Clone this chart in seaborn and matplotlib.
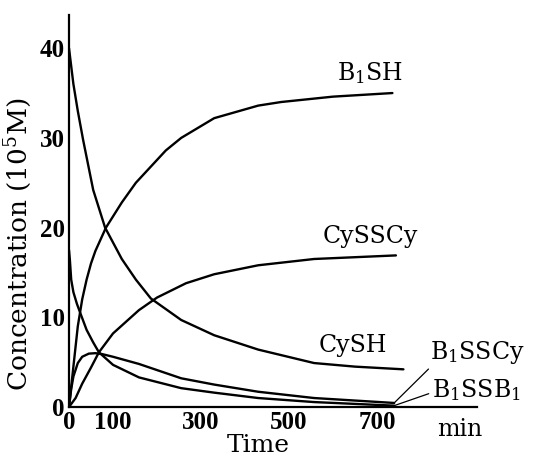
import numpy as np
import pandas as pd
import matplotlib
matplotlib.use("Agg")
import matplotlib.pyplot as plt
import seaborn as sns

# ---- data (time in min, concentration in 10^-5 M) ----
cysh_t = [0, 10, 20, 32, 55, 82, 120, 152, 186, 255, 330, 430, 557, 650, 760]
cysh_c = [40, 36, 33, 29.8, 24.2, 20, 16.5, 14.2, 12.1, 9.7, 8.0, 6.4, 4.9, 4.5, 4.2]

b1sh_t = [0, 10, 20, 30, 40, 50, 60, 84, 120, 152, 220, 255, 330, 430, 482, 600, 735]
b1sh_c = [0, 4.5, 9, 12, 14.2, 16, 17.4, 20, 22.8, 25, 28.6, 30, 32.2, 33.6, 34.0, 34.6, 35.0]

cysscy_t = [0, 15, 30, 50, 68, 100, 159, 200, 266, 330, 430, 557, 743]
cysscy_c = [0, 1.0, 2.6, 4.4, 6.1, 8.2, 10.8, 12.2, 13.8, 14.8, 15.8, 16.5, 16.9]

b1sscy_t = [0, 5, 10, 20, 30, 45, 60, 75, 100, 159, 255, 330, 430, 557, 739]
b1sscy_c = [0, 2.0, 3.4, 4.9, 5.6, 5.95, 6.0, 5.9, 5.6, 4.8, 3.2, 2.5, 1.7, 1.0, 0.45]

b1ssb1_t = [0, 2, 5, 10, 18, 27, 40, 55, 68, 100, 159, 255, 330, 430, 557, 739]
b1ssb1_c = [17.5, 16.4, 14.2, 12.8, 11.5, 10.3, 8.6, 7.2, 6.1, 4.7, 3.3, 2.1, 1.6, 1.0, 0.55, 0.15]

x_ticks = [0, 100, 300, 500, 700]
y_ticks = [0, 10, 20, 30, 40]

series = {
    "CySH": (cysh_t, cysh_c),
    "B1SH": (b1sh_t, b1sh_c),
    "CySSCy": (cysscy_t, cysscy_c),
    "B1SSCy": (b1sscy_t, b1sscy_c),
    "B1SSB1": (b1ssb1_t, b1ssb1_c),
}
df = pd.concat(
    [pd.DataFrame({"t": t, "c": c, "species": k}) for k, (t, c) in series.items()],
    ignore_index=True,
)

sns.set_theme(style="white")
plt.rcParams["font.family"] = ["DejaVu Serif"]
plt.rcParams["mathtext.fontset"] = "dejavuserif"
plt.rcParams["text.color"] = "black"

fig = plt.figure(figsize=(5.33, 4.57), dpi=100)
ax = fig.add_axes([69 / 533, 1 - 407 / 457, (477 - 69) / 533, (407 - 15) / 457])

sns.lineplot(
    data=df, x="t", y="c", hue="species",
    palette={k: "black" for k in series}, estimator=None, sort=False,
    linewidth=1.7, legend=False, ax=ax,
)

ax.set_xlim(0, (477 - 69) / 0.44)
ax.set_ylim(0, (407 - 15) / 8.97)
ax.set_xticks(x_ticks)
ax.set_yticks(y_ticks)
ax.tick_params(direction="in", length=7, width=1.3, pad=3, colors="black")
for lbl in ax.get_xticklabels() + ax.get_yticklabels():
    lbl.set_fontfamily("Liberation Serif")
    lbl.set_fontweight("bold")
    lbl.set_fontsize(18)
for s in ["top", "right"]:
    ax.spines[s].set_visible(False)
for s in ["left", "bottom"]:
    ax.spines[s].set_color("black")
    ax.spines[s].set_linewidth(1.6)

ax.set_xlabel("")
ax.set_ylabel("")
fig.text(18 / 533, 1 - 244 / 457, r"Concentration (10$^5$M)", fontsize=19,
         rotation=90, ha="center", va="center", color="black")
fig.text(258 / 533, 1 - 445 / 457, "Time", fontsize=18, ha="center",
         va="center", color="black")
fig.text(460 / 533, 1 - 430 / 457, "min", fontsize=17, ha="center",
         va="center", color="black")

fs = 17
ax.text(684, 37.2, r"B$_1$SH", fontsize=fs, ha="center", va="center", color="black")
ax.text(684, 19.0, "CySSCy", fontsize=fs, ha="center", va="center", color="black")
ax.text(645, 6.9, "CySH", fontsize=fs, ha="center", va="center", color="black")
ax.annotate(r"B$_1$SSCy", xy=(739, 0.45), xytext=(820, 6.1), fontsize=fs,
            ha="left", va="center", annotation_clip=False, color="black",
            arrowprops=dict(arrowstyle="-", lw=0.9, color="black",
                            shrinkA=0, shrinkB=0, relpos=(0.05, 0.1)))
ax.annotate(r"B$_1$SSB$_1$", xy=(739, 0.15), xytext=(825, 1.9), fontsize=fs,
            ha="left", va="center", annotation_clip=False, color="black",
            arrowprops=dict(arrowstyle="-", lw=0.9, color="black",
                            shrinkA=0, shrinkB=0, relpos=(0.0, 0.4)))

fig.savefig("out.png", dpi=100)
